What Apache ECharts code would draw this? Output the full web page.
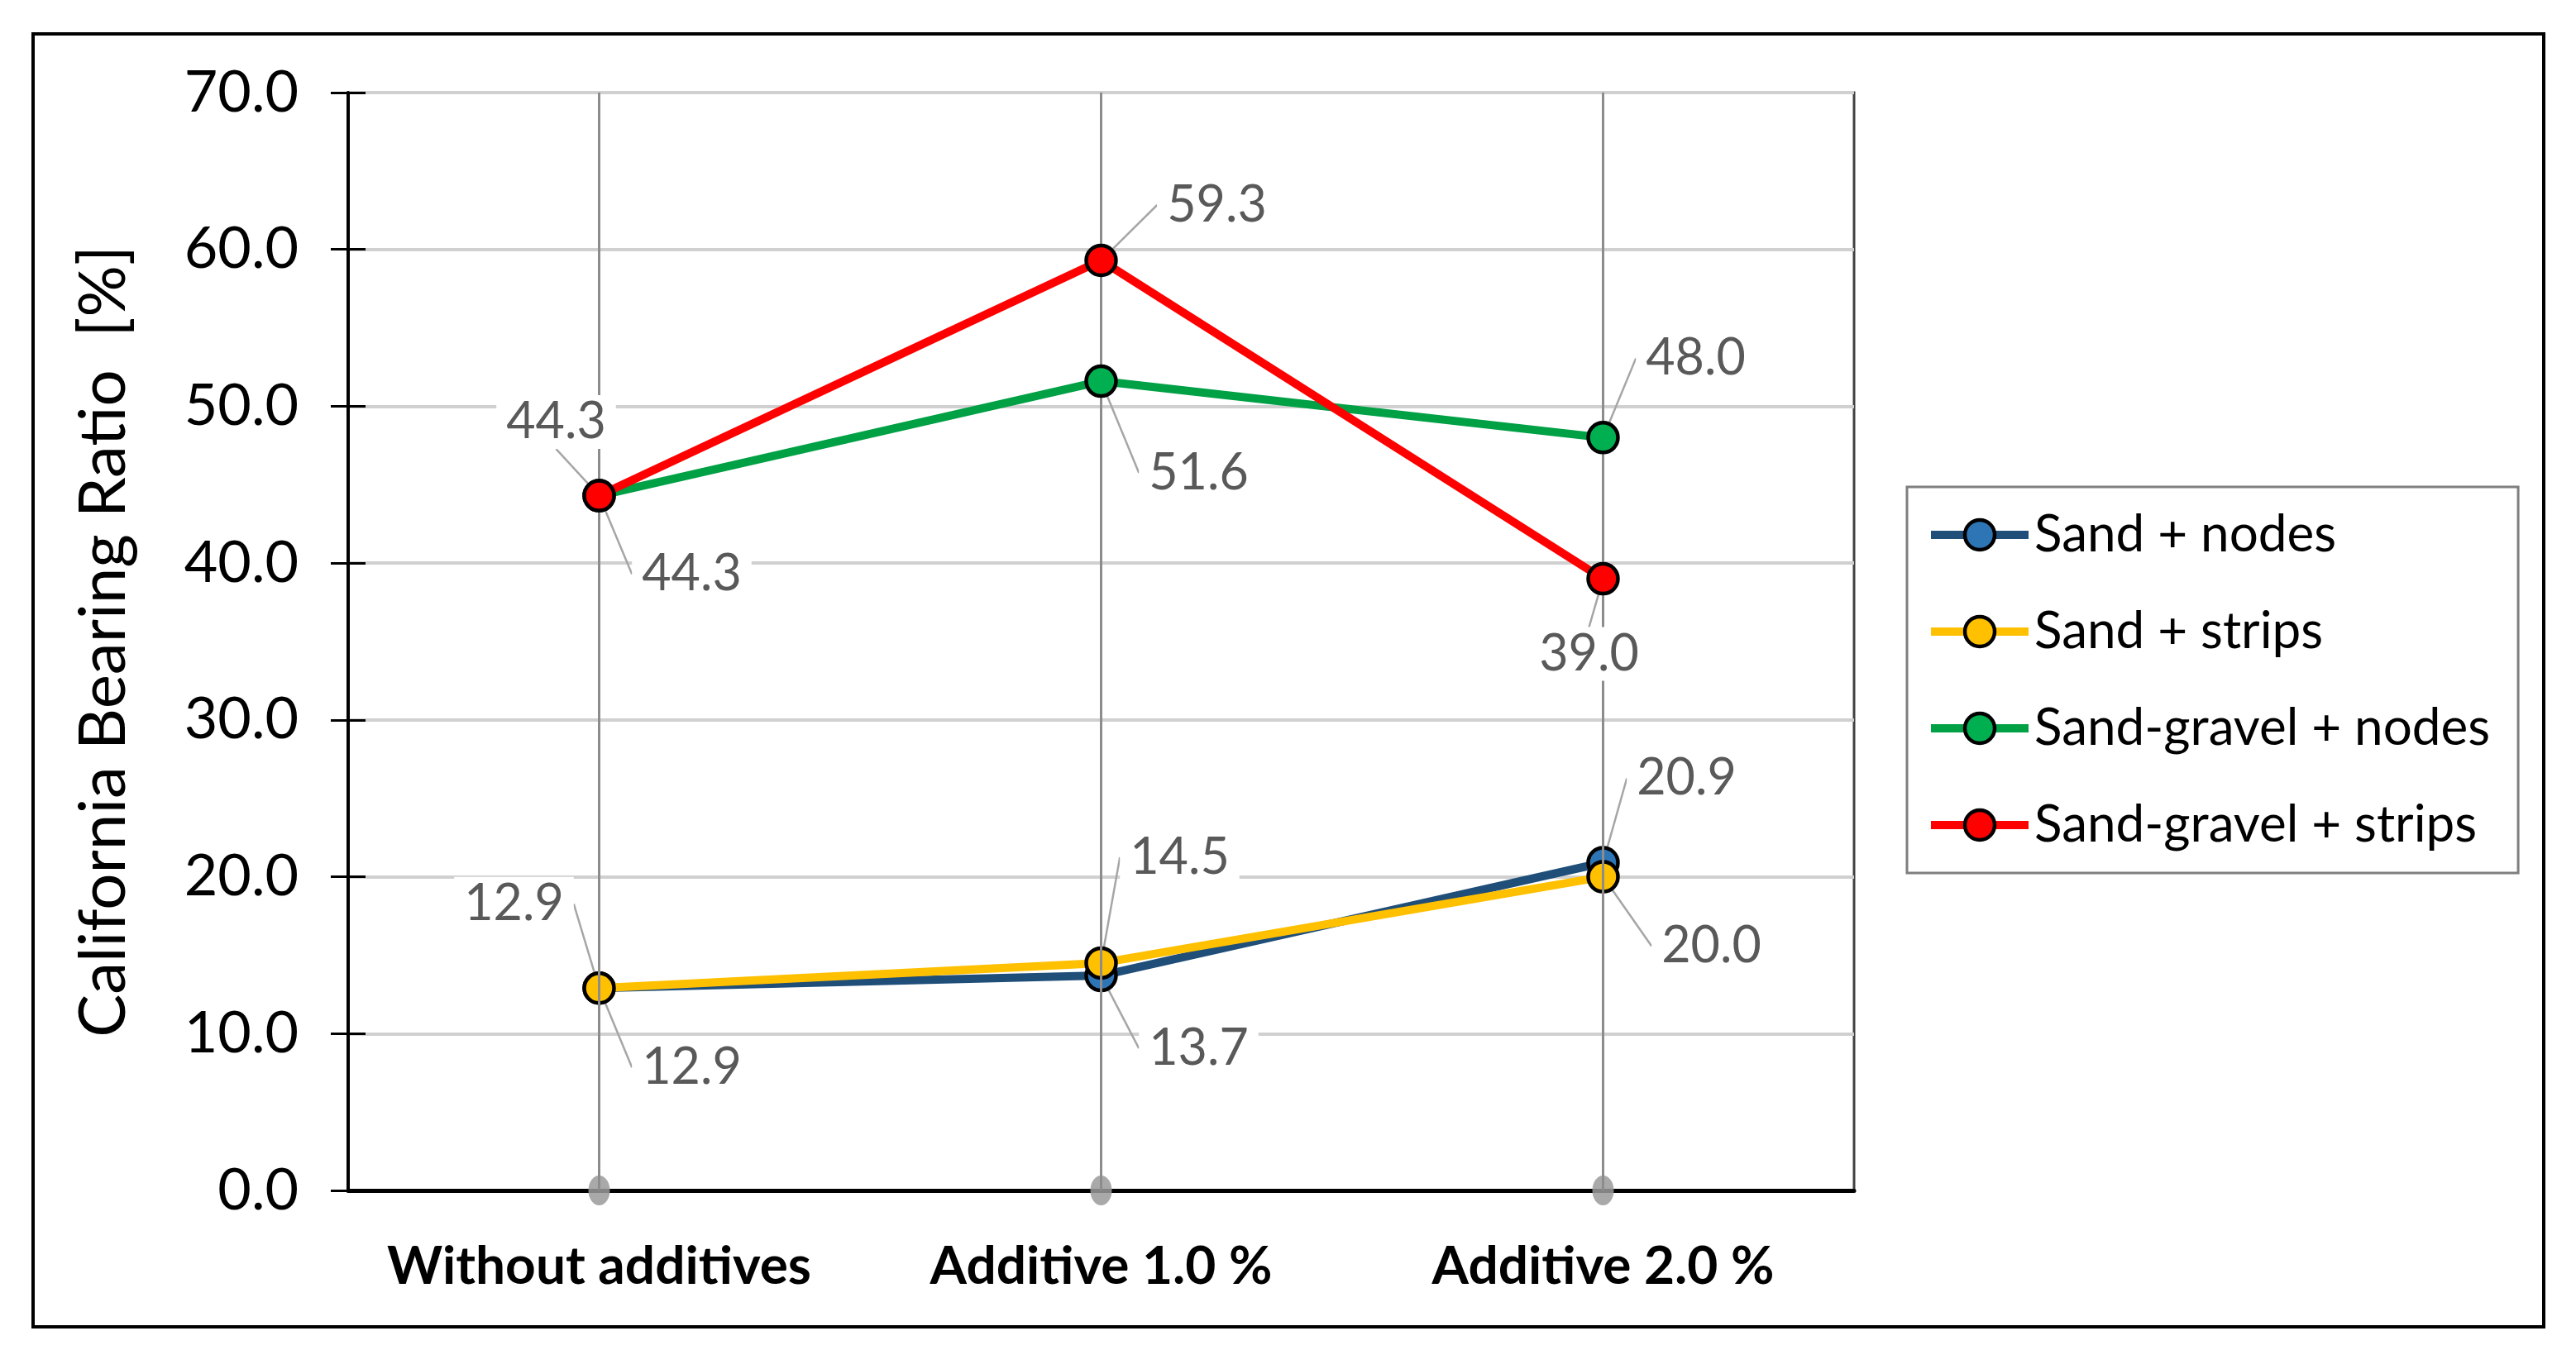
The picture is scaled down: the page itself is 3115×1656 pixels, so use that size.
<!DOCTYPE html>
<html>
<head>
<meta charset="utf-8">
<script src="https://cdn.jsdelivr.net/npm/echarts@6/dist/echarts.min.js"></script>
<style>
html,body{margin:0;padding:0;background:#fff;}
#chart{width:3115px;height:1656px;}
</style>
</head>
<body>
<div id="chart"></div>
<script>
// ---- data ----
const categories = ['Without additives', 'Additive 1.0 %', 'Additive 2.0 %'];
const seriesNames = ['Sand + nodes', 'Sand + strips', 'Sand-gravel + nodes', 'Sand-gravel + strips'];
const sandNodes = [12.9, 13.7, 20.9];
const sandStrips = [12.9, 14.5, 20.0];
const gravelNodes = [44.3, 51.6, 48.0];
const gravelStrips = [44.3, 59.3, 39.0];
const yMin = 0, yMax = 70, yStep = 10;
const yTitle = 'California Bearing Ratio  [%]';

// ---- style config ----
const lineColors = ['#1F4E79', '#FFC000', '#00A045', '#FF0000'];
const markerColors = ['#2E75B6', '#FFC000', '#00B050', '#FF0000'];
const labelOffsets = [
  [[112, 96], [118, 88], [101, -102]],
  [[-103, -102], [95, -128], [131, 84]],
  [[-52, -89], [118, 111], [112, -96]],
  [[112, 95], [140, -67], [-17, 91]]
];
const values = [sandNodes, sandStrips, gravelNodes, gravelStrips];
const FONT = 'Lato';

const chart = echarts.init(document.getElementById('chart'));

const lineSeries = values.map((vals, si) => ({
  name: seriesNames[si],
  type: 'line',
  data: vals,
  z: 3 + si,
  symbol: 'circle',
  symbolSize: 36,
  lineStyle: { color: lineColors[si], width: 10 },
  itemStyle: { color: markerColors[si], borderColor: '#000', borderWidth: 4.5 },
  label: {
    show: true,
    position: 'inside',
    formatter: p => p.value.toFixed(1),
    fontFamily: FONT,
    fontSize: 61,
    color: '#595959',
    backgroundColor: '#fff',
    padding: [2, 12]
  },
  labelLayout: p => ({ dx: labelOffsets[si][p.dataIndex][0], dy: labelOffsets[si][p.dataIndex][1] }),
  labelLine: { show: true, lineStyle: { color: '#a6a6a6', width: 2.5 } },
  emphasis: { disabled: true }
}));

const option = {
  animation: false,
  backgroundColor: '#fff',
  textStyle: { fontFamily: FONT },
  graphic: [{
    type: 'rect',
    shape: { x: 40, y: 41, width: 3036, height: 1564 },
    style: { fill: 'none', stroke: '#000', lineWidth: 4 },
    silent: true
  }],
  grid: {
    left: 421, right: 873, top: 112, bottom: 216,
    show: true, borderColor: '#404040', borderWidth: 3
  },
  legend: {
    orient: 'vertical',
    left: 2306, top: 589,
    padding: [27, 34, 27, 24],
    itemGap: 55,
    itemWidth: 118,
    itemHeight: 45,
    borderColor: '#7f7f7f',
    borderWidth: 3,
    backgroundColor: '#fff',
    data: seriesNames,
    lineStyle: { width: 10 },
    itemStyle: { borderColor: '#000', borderWidth: 4.5 },
    textStyle: { fontFamily: FONT, fontSize: 62, lineHeight: 45, color: '#000', padding: [0, 0, 0, 2] }
  },
  xAxis: {
    type: 'category',
    data: categories,
    axisLine: { lineStyle: { color: '#000', width: 5 } },
    axisTick: { show: false },
    splitLine: { show: false },
    axisLabel: { interval: 0, fontFamily: FONT, fontSize: 64, fontWeight: 'bold', color: '#000', margin: 60 }
  },
  yAxis: [{
    type: 'value',
    min: yMin, max: yMax, interval: yStep,
    name: yTitle,
    nameLocation: 'middle',
    nameGap: 256,
    nameTextStyle: { fontFamily: FONT, fontSize: 78, color: '#000' },
    axisLine: { show: true, lineStyle: { color: '#000', width: 4 } },
    axisTick: { show: true, length: 21, lineStyle: { color: '#000', width: 3 } },
    axisLabel: { fontFamily: FONT, fontSize: 70, color: '#000', margin: 60, formatter: v => v.toFixed(1) },
    splitLine: { show: true, lineStyle: { color: '#d0d0d0', width: 4 } }
  }, {
    type: 'value',
    min: yMin, max: yMax, interval: yStep,
    position: 'left',
    axisLine: { show: false },
    axisTick: { show: true, inside: true, length: 21, lineStyle: { color: '#000', width: 3 } },
    axisLabel: { show: false },
    splitLine: { show: false }
  }],
  series: [{
    type: 'scatter',
    name: 'drop',
    z: 1,
    data: categories.map(c => [c, yMin]),
    symbol: 'circle',
    symbolSize: [26, 36],
    itemStyle: { color: '#9a9a9a', opacity: 0.85 },
    silent: true,
    markLine: {
      silent: true,
      symbol: ['none', 'none'],
      label: { show: false },
      lineStyle: { color: '#8c8c8c', width: 3, type: 'solid' },
      data: categories.map(c => ({ xAxis: c }))
    }
  }].concat(lineSeries)
};
chart.setOption(option);
</script>
</body>
</html>
